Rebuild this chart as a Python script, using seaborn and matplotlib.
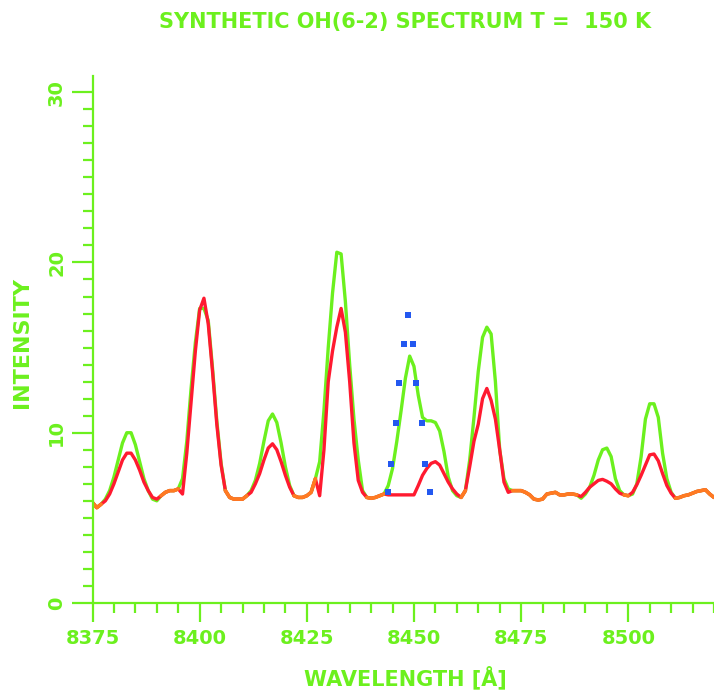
import numpy as np
import pandas as pd
import matplotlib
matplotlib.use("Agg")
import matplotlib.pyplot as plt
from matplotlib.ticker import MultipleLocator
import seaborn as sns

# Wavelength grid (Angstrom), 1 A steps
wavelength = list(range(8375, 8521))

# Synthetic spectrum, broad instrument profile (green)
synth_broad = [
    5.9, 5.6, 5.8, 6.1, 6.6, 7.4, 8.4, 9.4, 10.0, 10.0,      # 8375-8384
    9.3, 8.3, 7.3, 6.6, 6.1, 6.0, 6.3, 6.5, 6.6, 6.6,        # 8385-8394
    6.7, 7.3, 9.5, 12.6, 15.3, 17.3, 17.3, 16.6, 13.8, 10.7, # 8395-8404
    8.2, 6.6, 6.2, 6.1, 6.1, 6.1, 6.3, 6.6, 7.2, 8.2,        # 8405-8414
    9.5, 10.7, 11.1, 10.6, 9.4, 8.0, 6.9, 6.3, 6.2, 6.2,     # 8415-8424
    6.3, 6.5, 7.3, 8.3, 11.3, 15.0, 18.2, 20.6, 20.5, 17.7,  # 8425-8434
    14.0, 10.8, 8.4, 6.6, 6.2, 6.15, 6.2, 6.3, 6.4, 6.9,     # 8435-8444
    7.9, 9.5, 11.3, 13.2, 14.5, 13.9, 12.2, 10.9, 10.7, 10.7, # 8445-8454
    10.6, 10.1, 8.9, 7.4, 6.6, 6.3, 6.2, 6.6, 8.4, 10.9,     # 8455-8464
    13.6, 15.6, 16.2, 15.8, 13.0, 9.0, 7.3, 6.7, 6.6, 6.6,   # 8465-8474
    6.6, 6.5, 6.35, 6.1, 6.05, 6.1, 6.4, 6.45, 6.5, 6.35,    # 8475-8484
    6.35, 6.4, 6.4, 6.35, 6.15, 6.4, 6.8, 7.5, 8.4, 9.0,     # 8485-8494
    9.1, 8.6, 7.3, 6.6, 6.35, 6.3, 6.4, 7.0, 8.6, 10.8,      # 8495-8504
    11.7, 11.7, 10.9, 8.8, 7.3, 6.5, 6.15, 6.2, 6.3, 6.35,   # 8505-8514
    6.45, 6.55, 6.6, 6.65, 6.4, 6.2,                         # 8515-8520
]

# Synthetic spectrum, narrow profile (red)
synth_narrow = [
    5.9, 5.6, 5.8, 6.0, 6.4, 7.0, 7.7, 8.4, 8.8, 8.8,        # 8375-8384
    8.4, 7.8, 7.1, 6.6, 6.2, 6.1, 6.3, 6.5, 6.6, 6.6,        # 8385-8394
    6.7, 6.4, 8.8, 11.8, 14.8, 17.2, 17.9, 16.4, 13.6, 10.5, # 8395-8404
    8.1, 6.6, 6.2, 6.1, 6.1, 6.1, 6.3, 6.5, 7.0, 7.6,        # 8405-8414
    8.4, 9.1, 9.35, 9.0, 8.3, 7.5, 6.8, 6.3, 6.2, 6.2,       # 8415-8424
    6.3, 6.5, 7.3, 6.3, 9.0, 13.0, 14.8, 16.2, 17.3, 15.9,   # 8425-8434
    13.0, 9.4, 7.2, 6.5, 6.2, 6.15, 6.2, 6.3, 6.4, 6.35,     # 8435-8444
    6.35, 6.35, 6.35, 6.35, 6.35, 6.35, 6.9, 7.5, 7.9, 8.2,  # 8445-8454
    8.3, 8.1, 7.6, 7.1, 6.7, 6.4, 6.2, 6.6, 8.0, 9.5,        # 8455-8464
    10.5, 12.0, 12.6, 11.9, 10.8, 9.0, 7.1, 6.5, 6.6, 6.6,   # 8465-8474
    6.6, 6.5, 6.35, 6.1, 6.05, 6.1, 6.4, 6.45, 6.5, 6.35,    # 8475-8484
    6.35, 6.4, 6.4, 6.35, 6.25, 6.5, 6.8, 7.0, 7.2, 7.26,    # 8485-8494
    7.15, 7.0, 6.7, 6.45, 6.35, 6.3, 6.5, 6.95, 7.5, 8.1,    # 8495-8504
    8.7, 8.75, 8.35, 7.6, 6.9, 6.45, 6.15, 6.2, 6.3, 6.35,   # 8505-8514
    6.45, 6.55, 6.6, 6.65, 6.4, 6.2,                         # 8515-8520
]

# Line profile samples (blue squares)
profile_wl = [8448.6, 8447.7, 8449.8, 8446.6, 8450.5, 8445.9, 8451.8,
              8444.7, 8452.5, 8443.9, 8453.7]
profile_int = [16.9, 15.2, 15.2, 12.9, 12.9, 10.55, 10.55,
               8.15, 8.15, 6.5, 6.5]

title_text = "SYNTHETIC OH(6-2) SPECTRUM T =  150 K"
xlabel_text = "WAVELENGTH [Å]"
ylabel_text = "INTENSITY"
x_ticks = [8375, 8400, 8425, 8450, 8475, 8500]
y_ticks = [0, 10, 20, 30]

GREEN = "#6CF01E"
RED = "#FF1A30"
ORANGE = "#FF7A22"
BLUE = "#2358F0"

sns.set_style("white")
plt.rcParams["font.family"] = ["DejaVu Sans"]

df = pd.DataFrame({"wl": wavelength, "broad": synth_broad, "narrow": synth_narrow})

fig = plt.figure(figsize=(7.14, 6.91), dpi=100)
ax = fig.add_axes([92.5 / 714, 88 / 691, (714 - 92.5) / 714, (603 - 76) / 691])

sns.lineplot(data=df, x="wl", y="broad", ax=ax, color=GREEN, lw=2.4,
             estimator=None, sort=False)
sns.lineplot(data=df, x="wl", y="narrow", ax=ax, color=RED, lw=2.4,
             estimator=None, sort=False)

# Where both spectra coincide, the shared trace is drawn in orange
same = np.isclose(df["broad"], df["narrow"])
run_id = np.cumsum(np.r_[True, same[1:] != same[:-1]])
for rid in np.unique(run_id[same]):
    seg = df[(run_id == rid) & same]
    if len(seg) >= 2:
        sns.lineplot(data=seg, x="wl", y="broad", ax=ax, color=ORANGE, lw=2.6,
                     estimator=None, sort=False)

sns.scatterplot(x=profile_wl, y=profile_int, ax=ax, color=BLUE, marker="s",
                s=16, linewidth=0, zorder=5)

ax.set_xlim(8375, 8520)
ax.set_ylim(0, 30.95)
ax.set_xticks(x_ticks)
ax.set_yticks(y_ticks)
ax.xaxis.set_minor_locator(MultipleLocator(5))
ax.yaxis.set_minor_locator(MultipleLocator(1))
ax.set_xticklabels([str(t) for t in x_ticks])
ax.set_yticklabels([str(t) for t in y_ticks], rotation=90, va="center")

for side in ("top", "right"):
    ax.spines[side].set_visible(False)
for side in ("left", "bottom"):
    ax.spines[side].set_color(GREEN)
    ax.spines[side].set_linewidth(1.6)

ax.tick_params(axis="both", which="both", bottom=True, left=True,
               top=False, right=False, direction="out", color=GREEN, width=1.6)
ax.tick_params(axis="both", which="major", labelcolor=GREEN, labelsize=14)
ax.tick_params(axis="x", which="major", length=14, pad=5)
ax.tick_params(axis="x", which="minor", length=7)
ax.tick_params(axis="y", which="major", length=15, pad=4)
ax.tick_params(axis="y", which="minor", length=7.5)
for lbl in ax.get_xticklabels() + ax.get_yticklabels():
    lbl.set_fontweight("bold")

ax.set_xlabel("")
ax.set_ylabel("")

fig.text(405 / 714, 1 - 22 / 691, title_text, color=GREEN, fontsize=15,
         fontweight="bold", ha="center", va="center")
fig.text(405 / 714, 1 - 677 / 691, xlabel_text, color=GREEN, fontsize=15,
         fontweight="bold", ha="center", va="center")
fig.text(22 / 714, 1 - 343 / 691, ylabel_text, color=GREEN, fontsize=16,
         fontweight="bold", ha="center", va="center", rotation=90)

fig.savefig("out.png", dpi=100, facecolor="white")
